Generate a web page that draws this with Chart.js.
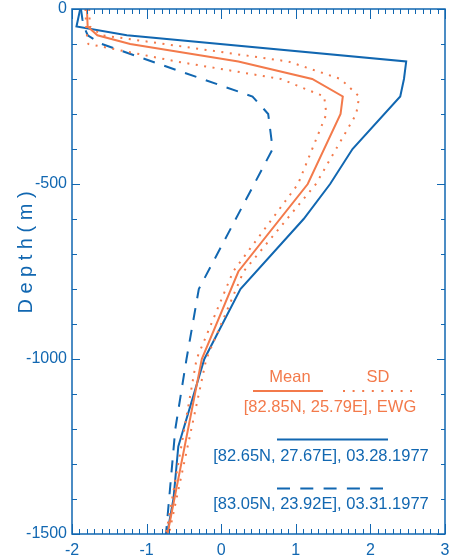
<!DOCTYPE html>
<html><head><meta charset="utf-8">
<script src="https://cdn.jsdelivr.net/npm/chart.js@4"></script>
<style>html,body{margin:0;padding:0;background:#fff}#wrap{width:450px;height:558px}</style>
</head><body><div id="wrap"><canvas id="c" width="450" height="558"></canvas></div>
<script>
// Cast [82.65N, 27.67E], 03.28.1977 (solid blue)
const depthCast1 = [0, -50, -75, -150, -200, -250, -400, -500, -600, -800, -1000, -1250, -1400, -1500];
const tempCast1  = [-1.89, -1.94, -1.265, 2.48, 2.45, 2.40, 1.76, 1.46, 1.105, 0.258, -0.226, -0.575, -0.64, -0.725];
// Cast [83.05N, 23.92E], 03.31.1977 (dashed blue)
const depthCast2 = [0, -30, -50, -75, -100, -250, -300, -400, -800, -1000, -1200, -1500];
const tempCast2  = [-1.88, -1.86, -1.84, -1.79, -1.60, 0.42, 0.63, 0.69, -0.30, -0.465, -0.615, -0.74];
// EWG climatology [82.85N, 25.79E]
const depthEWG  = [0, -50, -75, -100, -150, -200, -250, -300, -500, -750, -1000, -1500];
const meanEWG   = [-1.80, -1.79, -1.66, -1.22, 0.23, 1.22, 1.63, 1.60, 1.16, 0.23, -0.26, -0.72];
const sdUpperEWG= [-1.77, -1.76, -1.60, -0.76, 0.90, 1.60, 1.85, 1.81, 1.27, 0.30, -0.20, -0.70];
const sdLowerEWG= [-1.82, -1.81, -1.80, -1.78, -0.60, 0.80, 1.38, 1.41, 1.03, 0.16, -0.33, -0.74];
const xTickLabels = [-2, -1, 0, 1, 2, 3];
const yTickLabels = [0, -500, -1000, -1500];
const legendLabels = ['Mean', 'SD', '[82.85N, 25.79E], EWG', '[82.65N, 27.67E], 03.28.1977', '[83.05N, 23.92E], 03.31.1977'];
const yTitle = 'D e p t h ( m )';

const BLUE = '#1167b1', ORANGE = '#f37a4b';
const FONT = '"Liberation Sans", Arial, Helvetica, sans-serif';
Chart.defaults.font.family = FONT;

function pts(d, t) { return d.map((v, i) => ({ x: t[i], y: v })); }
function ds(d, t, color, dash) {
  return { data: pts(d, t), showLine: true, borderColor: color, borderWidth: 2, borderDash: dash || [],
    pointRadius: 0, fill: false, tension: 0, borderCapStyle: 'butt' };
}

const frame = {
  id: 'frame',
  afterDraw(chart) {
    const { ctx, chartArea: a, scales: { x, y } } = chart;
    ctx.save();
    ctx.strokeStyle = BLUE;
    ctx.lineWidth = 1.5;
    ctx.strokeRect(a.left, a.top, a.right - a.left, a.bottom - a.top);
    ctx.lineWidth = 1;
    const line = (x1, y1, x2, y2) => { ctx.beginPath(); ctx.moveTo(x1, y1); ctx.lineTo(x2, y2); ctx.stroke(); };
    const xmin = xTickLabels[0], xmax = xTickLabels[xTickLabels.length - 1];
    for (let i = xmin * 10; i <= xmax * 10; i++) {
      const px = Math.round(x.getPixelForValue(i / 10)) + 0.5;
      const L = (i % 10 === 0) ? 10 : 5;
      line(px, a.top, px, a.top + L);
      line(px, a.bottom, px, a.bottom - L);
    }
    const ymax = yTickLabels[0], ymin = yTickLabels[yTickLabels.length - 1];
    for (let v = ymax; v >= ymin; v -= 100) {
      const py = Math.round(y.getPixelForValue(v)) + 0.5;
      const major = v % 500 === 0;
      line(a.left, py, a.left + (major ? 8 : 5), py);
      line(a.right, py, a.right - (major ? 8 : 4), py);
    }
    // y title
    ctx.fillStyle = BLUE;
    ctx.font = '20px ' + FONT;
    ctx.textAlign = 'center';
    ctx.textBaseline = 'alphabetic';
    ctx.translate(32, 252.5);
    ctx.rotate(-Math.PI / 2);
    ctx.fillText(yTitle, 0, 0);
    ctx.restore();

    // legend
    ctx.save();
    ctx.font = '16.5px ' + FONT;
    ctx.textAlign = 'center';
    ctx.textBaseline = 'middle';
    ctx.fillStyle = ORANGE;
    ctx.fillText(legendLabels[0], 290, 377);
    ctx.fillText(legendLabels[1], 378, 377);
    ctx.fillText(legendLabels[2], 330, 407);
    ctx.fillStyle = BLUE;
    ctx.fillText(legendLabels[3], 321, 456);
    ctx.fillText(legendLabels[4], 321, 504);
    ctx.lineWidth = 2;
    ctx.strokeStyle = ORANGE;
    line(253, 391, 323, 391);
    ctx.setLineDash([2, 7.6]);
    line(343, 391, 412, 391);
    ctx.strokeStyle = BLUE;
    ctx.setLineDash([]);
    line(277, 439.5, 388, 439.5);
    ctx.setLineDash([13, 10.3]);
    line(277, 488.5, 383, 488.5);
    ctx.restore();
  }
};

new Chart(document.getElementById('c'), {
  type: 'scatter',
  data: {
    datasets: [
      ds(depthEWG, sdUpperEWG, ORANGE, [2, 6.5]),
      ds(depthEWG, sdLowerEWG, ORANGE, [2, 6.5]),
      ds(depthEWG, meanEWG, ORANGE),
      ds(depthCast1, tempCast1, BLUE),
      ds(depthCast2, tempCast2, BLUE, [12, 10])
    ]
  },
  options: {
    responsive: false, animation: false, devicePixelRatio: 1,
    layout: { padding: { left: 0, right: 5, top: 9, bottom: 0 } },
    plugins: { legend: { display: false }, tooltip: { enabled: false } },
    scales: {
      x: {
        type: 'linear', min: xTickLabels[0], max: xTickLabels[xTickLabels.length - 1],
        grid: { display: false, drawTicks: false },
        border: { display: false },
        ticks: { stepSize: 1, color: BLUE, font: { size: 16 }, padding: 7, callback: v => String(v) },
        afterFit: s => { s.height = 24; s.paddingLeft = 0; s.paddingRight = 0; }
      },
      y: {
        type: 'linear', min: yTickLabels[yTickLabels.length - 1], max: yTickLabels[0],
        grid: { display: false, drawTicks: false },
        border: { display: false },
        ticks: { stepSize: 500, color: BLUE, font: { size: 16 }, padding: 5, callback: v => String(v) },
        afterFit: s => { s.width = 72; s.paddingTop = 0; s.paddingBottom = 0; }
      }
    }
  },
  plugins: [frame]
});
</script>
</body></html>
